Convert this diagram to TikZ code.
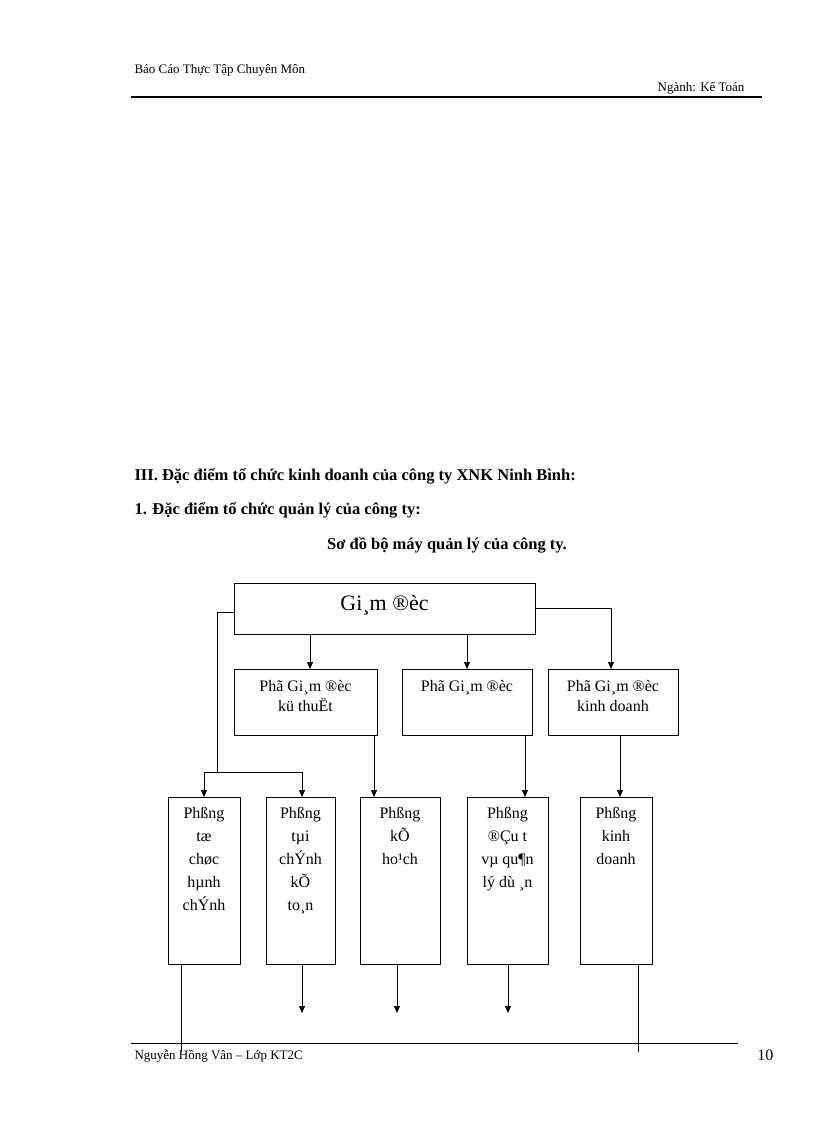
\documentclass[tikz,border=0pt]{standalone}
\usepackage{fontspec}
\setmainfont{Liberation Serif}
\usetikzlibrary{arrows.meta}
\begin{document}
\begin{tikzpicture}[x=1pt,y=-1pt,
 bx/.style={draw,line width=0.8pt,anchor=north west,inner sep=0pt},
 txt/.style={font=\fontsize{16}{20}\selectfont,align=center,anchor=north},
 ln/.style={line width=0.7pt},
 ar/.style={line width=0.7pt,-{Triangle[length=7pt,width=6pt]}}]
\useasboundingbox[fill=white] (0,0) rectangle (816,1123);
\node[anchor=base west,font=\fontsize{13}{15}\selectfont] (h1) at (131,74) {Báo Cáo Thực Tập Chuyên Môn};
\node[anchor=base east,font=\fontsize{13}{15}\selectfont] (h2) at (748,92) {Ngành: Kế Toán};
\draw[line width=1.8pt] (131,97) -- (762,97);
\node[anchor=base west,font=\bfseries\fontsize{16.5}{20}\selectfont] (t1) at (131,480) {III. Đặc điểm tổ chức kinh doanh của công ty XNK Ninh Bình:};
\node[anchor=base west,font=\bfseries\fontsize{16.5}{20}\selectfont] (t2) at (131,514) {1. Đặc điểm tổ chức quản lý của công ty:};
\node[anchor=base,font=\bfseries\fontsize{16.5}{20}\selectfont] (t3) at (447,549) {Sơ đồ bộ máy quản lý của công ty.};
% boxes
\node[bx,minimum width=301pt,minimum height=51pt] (gd) at (234,583) {};
\node[font=\fontsize{22}{26}\selectfont] at (384.5,605) {Gi¸m ®èc};
\node[bx,minimum width=143pt,minimum height=66pt] (p1) at (234,669) {};
\node[bx,minimum width=130pt,minimum height=66pt] (p2) at (402,669) {};
\node[bx,minimum width=130pt,minimum height=66pt] (p3) at (548,669) {};
\node[txt] at (305.5,677) {Phã Gi¸m ®èc\\kü thuËt};
\node[txt] at (467,677) {Phã Gi¸m ®èc};
\node[txt] at (613,677) {Phã Gi¸m ®èc\\kinh doanh};
\node[bx,minimum width=72pt,minimum height=167pt] (b1) at (168,797) {};
\node[bx,minimum width=69pt,minimum height=167pt] (b2) at (266,797) {};
\node[bx,minimum width=80pt,minimum height=167pt] (b3) at (360,797) {};
\node[bx,minimum width=81pt,minimum height=167pt] (b4) at (467,797) {};
\node[bx,minimum width=72pt,minimum height=167pt] (b5) at (580,797) {};
\node[txt,font=\fontsize{16}{23}\selectfont] at (204,804) {Phßng\\tæ\\chøc\\hµnh\\chÝnh};
\node[txt,font=\fontsize{16}{23}\selectfont] at (300.5,804) {Phßng\\tµi\\chÝnh\\kÕ\\to¸n};
\node[txt,font=\fontsize{16}{23}\selectfont] at (400,804) {Phßng\\kÕ\\ho¹ch};
\node[txt,font=\fontsize{16}{23}\selectfont] at (507.5,804) {Phßng\\®Çu t\\vµ qu¶n\\lý dù ¸n};
\node[txt,font=\fontsize{16}{23}\selectfont] at (616,804) {Phßng\\kinh\\doanh};
% connectors
\draw[ar] (gd.south west -| p1.south west) ++(76,0) coordinate (g1) -- (g1 |- p1.north);
\draw[ar] (gd.south west) ++(233,0) coordinate (g2) -- (g2 |- p2.north);
\draw[ar] (gd.east) ++(0,-0.5) coordinate (g3) -| (611,669) coordinate (g3e);
\coordinate (lj) at (217,772);
\draw[ln] (gd.west) ++(0,3) -| (lj);
\draw[ln] (204,772) -- (302,772);
\draw[ar] (204,772) -- (b1.north -| 204,0);
\draw[ar] (302,772) -- (b2.north -| 302,0);
\draw[ar] (p1.south -| 374,0) -- (b3.north -| 374,0);
\draw[ar] (p2.south -| 525,0) -- (b4.north -| 525,0);
\draw[ar] (p3.south -| 620,0) -- (b5.north -| 620,0);
\coordinate (e1) at (181,1052);
\coordinate (e5) at (638,1052);
\draw[ln] (b1.south -| 181,0) -- (e1);
\draw[ln] (b5.south -| 638,0) -- (e5);
\draw[ar] (b2.south -| 302,0) -- (302,1013);
\draw[ar] (b3.south -| 397,0) -- (397,1013);
\draw[ar] (b4.south -| 508,0) -- (508,1013);
% footer
\draw[line width=0.9pt] (131,1043) -- (738,1043);
\node[anchor=base west,font=\fontsize{13}{15}\selectfont] (f1) at (131,1059) {Nguyễn Hồng Vân – Lớp KT2C};
\node[anchor=base east,font=\fontsize{16}{18}\selectfont] (f2) at (777,1060) {10};
\end{tikzpicture}
\end{document}
